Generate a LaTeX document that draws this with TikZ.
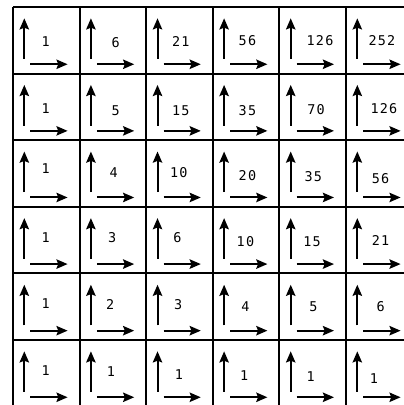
\documentclass[tikz,border=0pt]{standalone}
\usepackage{fontspec}
\newfontfamily\cellfont{DejaVu Sans Mono}[LetterSpace=9]
\usetikzlibrary{arrows.meta}
\tikzset{
	cellline/.style={draw=black,line width=1.7pt},
	arw/.style={draw=black,line width=1.7pt,-{Stealth[length=9.5pt,width=8pt,inset=1.5pt]}},
	num/.style={font=\cellfont\fontsize{11.5}{13}\selectfont,inner sep=0pt},
}

\begin{document}
\begin{tikzpicture}[x=2cm,y=2cm]
	\useasboundingbox (-0.195,0.024) rectangle (5.856,6.105);
	\fill[white] (-0.195,0.024) rectangle (5.856,6.105);
	\draw[cellline,step=2cm] (0,0) grid (6,6);
	\foreach \c in {0,...,5}
	\foreach \r in {0,...,5}{
		\draw[arw] (\c+0.17,\r+0.22) -- (\c+0.17,\r+0.83);
		\draw[arw] (\c+0.26,\r+0.14) -- (\c+0.82,\r+0.14);
	}
	% column/row/value/x/y inside the cell
	\foreach \c/\r/\v/\dx/\dy in {
		0/5/1/0.49/0.48, 1/5/6/0.54/0.46, 2/5/21/0.52/0.48, 3/5/56/0.52/0.5, 4/5/126/0.61/0.5, 5/5/252/0.54/0.5,
		0/4/1/0.49/0.48, 1/4/5/0.54/0.45, 2/4/15/0.52/0.45, 3/4/35/0.52/0.45, 4/4/70/0.55/0.46, 5/4/126/0.57/0.48,
		0/3/1/0.49/0.57, 1/3/4/0.51/0.52, 2/3/10/0.49/0.52, 3/3/20/0.52/0.47, 4/3/35/0.51/0.45, 5/3/56/0.52/0.42,
		0/2/1/0.49/0.54, 1/2/3/0.49/0.54, 2/2/6/0.47/0.54, 3/2/10/0.49/0.48, 4/2/15/0.49/0.47, 5/2/21/0.52/0.49,
		0/1/1/0.49/0.55, 1/1/2/0.46/0.53, 2/1/3/0.48/0.53, 3/1/4/0.49/0.5, 4/1/5/0.51/0.5, 5/1/6/0.52/0.5,
		0/0/1/0.49/0.54, 1/0/1/0.47/0.52, 2/0/1/0.49/0.48, 3/0/1/0.47/0.47, 4/0/1/0.47/0.45, 5/0/1/0.42/0.42}
	\node[num] (n\c\r) at (\c+\dx,\r+\dy) {\v};
\end{tikzpicture}
\end{document}
